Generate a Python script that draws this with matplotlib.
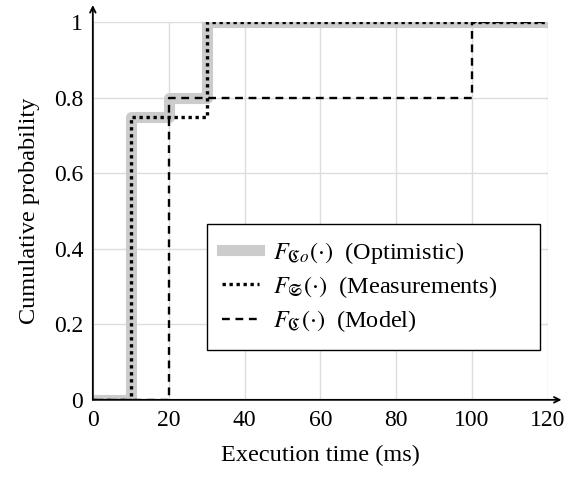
import matplotlib.pyplot as plt
import numpy as np

plt.rcParams['font.family'] = ['Liberation Serif', 'DejaVu Serif']
plt.rcParams['mathtext.fontset'] = 'stix'

# step CDFs (x, y) with post-steps
opt_x = [0, 10, 20, 30, 120]
opt_y = [0, 0.75, 0.8, 1, 1]
meas_x = [0, 10, 30, 120]
meas_y = [0, 0.75, 1, 1]
model_x = [0, 20, 100, 120]
model_y = [0, 0.8, 1, 1]

xticks = [0, 20, 40, 60, 80, 100, 120]
yticks = [0, 0.2, 0.4, 0.6, 0.8, 1]
yticklabels = ['0', '0.2', '0.4', '0.6', '0.8', '1']

fig = plt.figure(figsize=(5.66, 4.8), dpi=100)
ax = fig.add_axes([0.164, 0.167, 0.804, 0.787])

ax.step(opt_x, opt_y, where='post', color='#cccccc', lw=8,
        label=r'$F_{\mathfrak{C}o}(\cdot)$  (Optimistic)', zorder=2)
ax.step(meas_x, meas_y, where='post', color='black', lw=2.4, ls=(0, (1, 1.1)),
        label=r'$F_{\mathfrak{S}}(\cdot)$  (Measurements)', zorder=3)
ax.step(model_x, model_y, where='post', color='black', lw=1.7, ls=(0, (3.3, 2.4)),
        label=r'$F_{\mathfrak{C}}(\cdot)$  (Model)', zorder=3)

ax.set_xlim(0, 120)
ax.set_ylim(0, 1)
ax.set_xticks(xticks)
ax.set_yticks(yticks)
ax.set_yticklabels(yticklabels)
ax.tick_params(length=0, labelsize=17, pad=7)
ax.grid(True, color='#dddddd', lw=1)
ax.set_axisbelow(True)
for s in ['top', 'right', 'left', 'bottom']:
    ax.spines[s].set_visible(False)

# axis arrows
ax.annotate('', xy=(1.03, 0), xytext=(0, 0), xycoords='axes fraction',
            arrowprops=dict(arrowstyle='->', lw=1.3, color='black', shrinkA=0, shrinkB=0),
            annotation_clip=False)
ax.annotate('', xy=(0, 1.045), xytext=(0, 0), xycoords='axes fraction',
            arrowprops=dict(arrowstyle='->', lw=1.3, color='black', shrinkA=0, shrinkB=0),
            annotation_clip=False)

ax.set_xlabel('Execution time (ms)', fontsize=17.5, labelpad=10)
ax.set_ylabel('Cumulative probability', fontsize=17.5, labelpad=10)

leg = ax.legend(loc='lower left', bbox_to_anchor=(0.25, 0.132, 0.732, 0.34),
                mode='expand', fontsize=17.5,
                fancybox=False, edgecolor='black', framealpha=1,
                handlelength=1.5, borderpad=0.65, labelspacing=0.34,
                handletextpad=0.6, borderaxespad=0)
leg.get_frame().set_linewidth(1.0)

fig.savefig('out.png', dpi=100)
